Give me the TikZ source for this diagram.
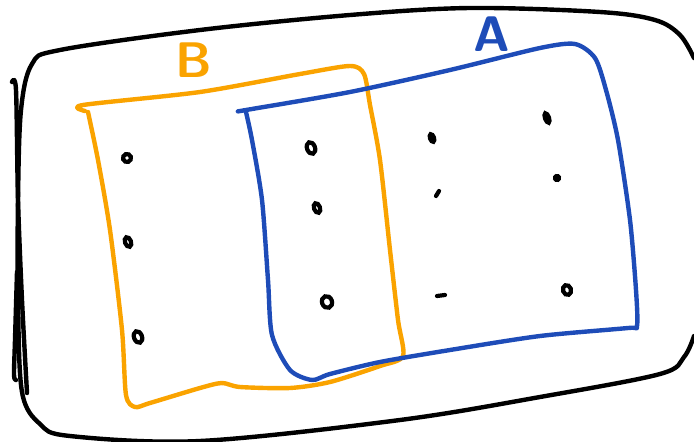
\documentclass[tikz,border=0pt]{standalone}
\usepackage{tikz}
\usetikzlibrary{calc}
\definecolor{setA}{RGB}{30,76,184}
\definecolor{setB}{RGB}{250,163,0}
\tikzset{pen/.style={line width=4.4pt,line cap=round,line join=round},
  elem/.style={line width=4.2pt,line cap=round,black},
  lbl/.style={font=\sffamily\bfseries\fontsize{50}{50}\selectfont,inner sep=0pt}}

\begin{document}
\begin{tikzpicture}[x=1pt,y=-1pt]
\useasboundingbox (0,0) rectangle (694,442);
% universe
\draw[pen] plot[smooth,tension=0.55] coordinates {(694,58) (680,35) (655,20) (600,12) (470,8) (350,15) (200,30) (60,50) (32,64) (21,110) (18,200) (18,300) (22,392) (40,424) (70,436) (200,441) (400,420) (540,397) (660,374) (684,357) (694,336)};
\draw[pen] plot[smooth,tension=0.5] coordinates {(12,82) (16,90) (18,200) (22,300) (27,393)};
\draw[pen] plot[smooth,tension=0.5] coordinates {(17,272) (15,340) (14,375) (16,380)};
% B
\draw[pen,setB] plot[smooth,tension=0.45] coordinates {(85,111) (83,105) (200,92) (300,74) (350,66) (364,74) (370,105) (380,160) (390,250) (398,320) (403,356) (380,366) (330,382) (290,388) (240,387) (222,383) (200,388) (150,403) (135,407) (126,395) (122,330) (110,230) (98,160) (88,112)};
% A
\draw[pen,setA] plot[smooth,tension=0.45] coordinates {(240,111) (246,110) (350,92) (450,70) (540,48) (575,44) (595,58) (606,90) (618,140) (630,220) (636,290) (637,326) (628,328) (540,336) (450,350) (380,362) (330,374) (312,380) (290,370) (272,335) (268,280) (262,200) (252,140) (246,112)};
% labels
\node[lbl,setB] (labB) at (194,60) {B};
\node[lbl,setA] (labA) at (492,34) {A};
% elements
\foreach \x/\y/\r/\s in {127/158/4/4,128/242/3/5,138/337/4/6,311/148/4/6,317/208/3/5,327/302/5/6,
  432/138/2/4,547/118/2/5,557/178/2/2,567/290/4/5}
  \draw[elem] (\x,\y) ellipse [x radius=\r pt,y radius=\s pt,rotate=20];
\draw[elem] (436,196) -- (439,191);
\draw[elem] (437,296) -- (445,295);
\end{tikzpicture}
\end{document}
